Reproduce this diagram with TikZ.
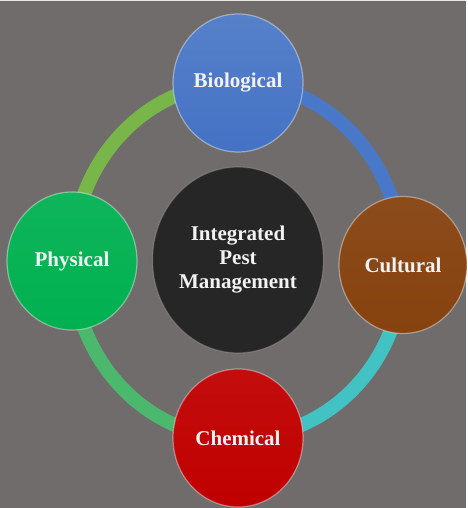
\documentclass[tikz,border=0pt]{standalone}
\usepackage{fontspec}
\setmainfont{Liberation Serif}
\usetikzlibrary{shapes.geometric}
\definecolor{bggray}{HTML}{706C6B}
\definecolor{bioblue}{HTML}{4472C4}
\definecolor{cultbrown}{HTML}{86420F}
\definecolor{chemred}{HTML}{C00000}
\definecolor{physgreen}{HTML}{00B050}
\definecolor{ipmblack}{HTML}{262626}
\definecolor{arcgreen}{HTML}{78B64A}
\definecolor{arcblue}{HTML}{4A78C8}
\definecolor{arcteal}{HTML}{42C2C2}
\definecolor{arcmint}{HTML}{4BB86E}
\pgfdeclarelayer{bg}
\pgfdeclarelayer{ring}
\pgfsetlayers{bg,ring,main}
\tikzset{
  ball/.style={ellipse, inner sep=0pt, minimum width=130pt, minimum height=138pt,
    draw=white, draw opacity=0.4, line width=1.2pt,
    text=white!95!black, font=\fontsize{21}{24}\selectfont\bfseries, align=center},
  ringarc/.style={line width=14pt}
}
\begin{document}
\begin{tikzpicture}[x=1pt,y=1pt]
  \begin{pgfonlayer}{bg}
    \fill[bggray] (0,0) rectangle (466,508);
    \fill[white!85!bggray] (0,506.5) rectangle (466,508);
  \end{pgfonlayer}
  \node[ball, top color=bioblue!90!white, bottom color=bioblue] (bio) at (238,425) {Biological};
  \node[ball, top color=physgreen!94!white, bottom color=physgreen] (phys) at (72,247) {Physical};
  \node[ball, top color=cultbrown!95!white, bottom color=cultbrown, minimum width=128pt, minimum height=137pt] (cult) at (403,243) {Cultural};
  \node[ball, top color=chemred!95!white, bottom color=chemred] (chem) at (238,70) {Chemical};
  \node[ball, fill=ipmblack, draw=gray!70, minimum width=171pt, minimum height=186pt] (ipm) at (238,248) {Integrated\\Pest\\Management};
  \begin{pgfonlayer}{ring}
    \draw[ringarc, arcgreen] (phys.center) to[out=90,in=180] (bio.center);
    \draw[ringarc, arcblue] (bio.center) to[out=0,in=90] (cult.center);
    \draw[ringarc, arcteal] (cult.center) to[out=-90,in=0] (chem.center);
    \draw[ringarc, arcmint] (chem.center) to[out=180,in=-90] (phys.center);
  \end{pgfonlayer}
\end{tikzpicture}
\end{document}
